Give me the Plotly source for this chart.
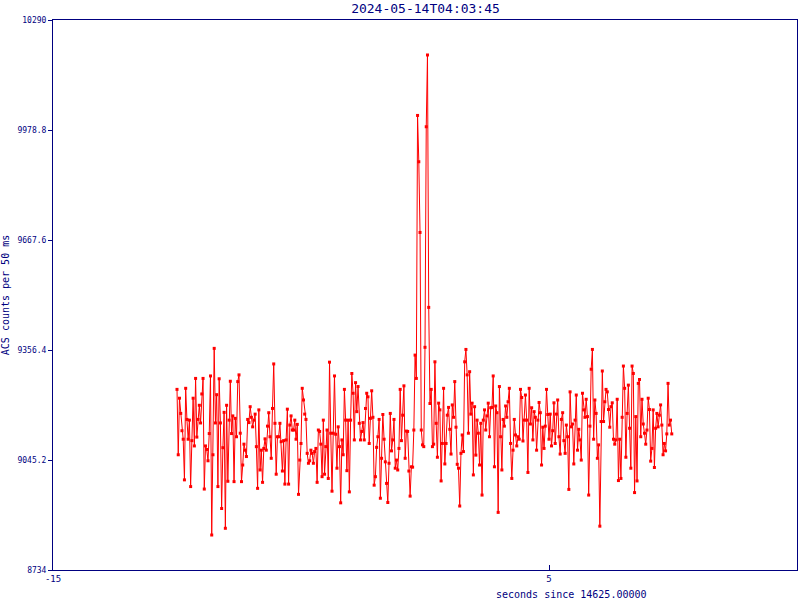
import numpy as np
import plotly.graph_objects as go

title_text = "2024-05-14T04:03:45"
x_label = "seconds since 14625.00000"
y_label = "ACS counts per 50 ms"
bin_width = 0.05
t_start = -10.0

y_tick_vals = [8734, 9045.2, 9356.4, 9667.6, 9978.8, 10290]
y_tick_text = ["8734", "9045.2", "9356.4", "9667.6", "9978.8", "10290"]
x_tick_vals = [-15, 5]
x_tick_text = ["-15", "5"]

counts_a = [9245, 9060, 9220, 9177, 9128, 9104, 8989, 9248, 9160, 9104, 9158, 8970, 9100, 9220, 9085, 9276,
            9110, 9160, 9200, 9150, 9232, 9276, 8963, 9085, 9075, 9043, 9120, 9283, 8833, 9060, 9361, 9150,
            9230, 8970, 9275, 9150, 8908, 9080, 9180, 8852, 9200, 8985, 9158, 9268, 9120, 9170]
counts_b = [8984, 9163, 9111, 9267, 9286, 9121, 8984, 9031, 9090, 9073, 9055, 9160, 9151, 9196, 9166, 9139,
            9158, 9175, 9083, 8965, 9187, 9017, 9073, 8982, 9078, 9105, 9073, 9141, 9179, 9111, 9050, 9191,
            9317, 9149, 9005, 9111, 9111, 9149, 9097, 9014, 9100, 8977, 9102, 9189, 8977, 9144, 9170, 9130]
counts_c = [9130, 9158, 9104, 9146, 8948, 9045, 9092, 9248, 9215, 9175, 9160, 9064, 9036, 9043, 9073, 9064,
            9036, 9069, 9078, 8982, 9130, 9126, 9090, 8998, 9158, 9005, 9083, 9130, 8993, 9322, 9121, 8957,
            9121, 9283, 9118, 9022, 9139, 9083, 8924, 9102, 9060, 9245, 9158, 9015, 9158, 8955, 9158, 9290]
counts_d = [9234, 9102, 9264, 9182, 9253, 9149, 9102, 9126, 9151, 9102, 9191, 9234, 9224, 9092, 9163, 9241,
            9166, 8974, 8998, 9081, 9111, 9160, 8937, 9050, 9174, 9104, 9040, 8979, 8925, 9036, 9177, 9071,
            9102, 9160, 9022, 9045, 9017, 9078, 9245, 9100, 9172, 9255, 9050, 9127, 9126, 9014, 8943, 9026]
counts_peak = [9025, 9130, 9342, 9276, 10020, 9889, 9689, 9130, 9088, 9083, 9364, 9988, 10191, 9477, 9205,
               9245, 9083, 9090, 9323, 9149]
counts_e = [9053, 9206, 9187, 8986, 9092, 9248, 9034, 9092, 9172, 9194, 9132, 9062, 9201, 9166, 9267, 9138,
            9033, 9022, 8915, 9064, 9116, 9069, 9323, 9358, 9286, 9121, 9295, 9175, 9206, 9003, 9196, 9059,
            9158, 9121, 9031, 9149, 8946, 9158, 9187, 9130, 9170, 9206, 9111, 9193, 9194, 9283, 9026, 9198]
counts_f = [9179, 8897, 9253, 9111, 9017, 9160, 9141, 9198, 9166, 9210, 9248, 9092, 8993, 9073, 9160, 9116,
            9085, 9111, 9104, 9245, 9222, 9099, 9158, 9229, 9158, 9010, 9248, 9147, 9193, 9102, 9182, 9166,
            9073, 9158, 9208, 9179, 9031, 9138, 9078, 9141, 9245, 9174, 9104, 9175, 9085, 9128, 9207, 9092]
counts_g = [9175, 9215, 9111, 9062, 9160, 9179, 9100, 9064, 9144, 9111, 8962, 9238, 9139, 9147, 9034, 9158,
            9229, 9073, 9132, 9102, 9045, 9234, 9187, 9166, 9217, 9168, 8946, 9141, 9302, 9358, 9104, 9215,
            9177, 9050, 9088, 8858, 9154, 9297, 9154, 9210, 9245, 9238, 9188, 9138, 9196, 9207, 9104, 9090]
counts_h = [9102, 9217, 8987, 9104, 8993, 9166, 9311, 9248, 9053, 9177, 9257, 9135, 9022, 9311, 9290, 8953,
            9168, 8986, 9262, 9273, 9111, 9217, 9147, 9121, 9090, 9130, 9220, 9188, 9042, 9078, 9187, 9024,
            9135, 9177, 9139, 9172, 9201, 9144, 9060, 9092, 9071, 9119, 9262, 9144, 9158, 9119]

counts = (counts_a + counts_b + counts_c + counts_d + counts_peak + counts_e + counts_f + counts_g + counts_h)
times = t_start + bin_width * np.arange(len(counts))

navy = "#000080"
mono = "DejaVu Sans Mono"

fig = go.Figure()
fig.add_trace(go.Scatter(
    x=times, y=counts, mode="lines+markers",
    line=dict(color="#ff0000", width=1),
    marker=dict(color="#ff0000", size=3, symbol="square"),
    showlegend=False, hoverinfo="skip",
))

fig.update_layout(
    width=800, height=600,
    margin=dict(l=52, r=2, t=20, b=30),
    paper_bgcolor="white", plot_bgcolor="white",
    title=dict(text=title_text, x=(52 + 799) / 2 / 800, xanchor="center", y=1 - 8 / 600, yanchor="middle",
               font=dict(family=mono, size=13, color=navy)),
    xaxis=dict(range=[-15, 15], tickvals=x_tick_vals, ticktext=x_tick_text, ticks="inside", ticklen=5,
               tickcolor=navy, showgrid=False, zeroline=False, showline=True, linecolor=navy, linewidth=1,
               mirror=True, tickfont=dict(family=mono, size=9, color=navy)),
    yaxis=dict(range=[8734, 10290], tickvals=y_tick_vals, ticktext=y_tick_text, ticks="outside", ticklen=4,
               tickcolor=navy, showgrid=False, zeroline=False, showline=True, linecolor=navy, linewidth=1,
               mirror=True, tickfont=dict(family=mono, size=8, color=navy),
               title=dict(text=y_label, font=dict(family=mono, size=10, color=navy), standoff=8)),
    annotations=[dict(text=x_label, xref="paper", yref="paper", x=(573 - 52) / 747, y=-24 / 550,
                      xanchor="center", yanchor="middle", showarrow=False,
                      font=dict(family=mono, size=10, color=navy))],
)

fig.write_html("out.html", config={"displayModeBar": False},
               post_script="document.body.style.margin='0px';document.body.style.overflow='hidden';")
